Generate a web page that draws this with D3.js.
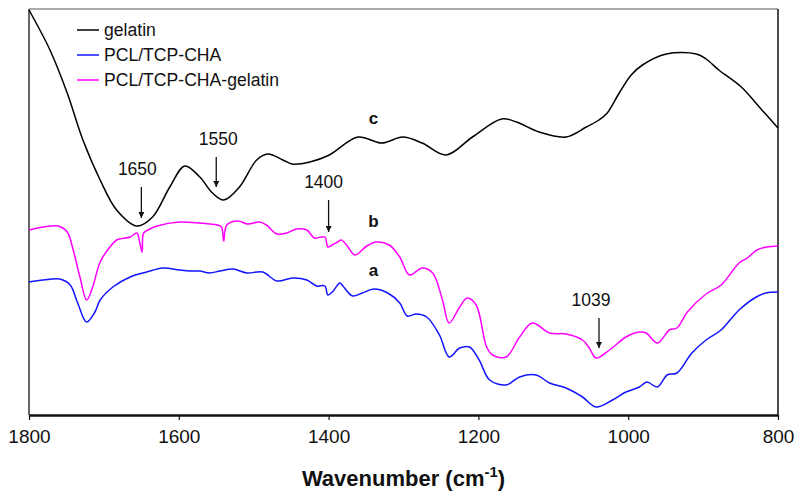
<!DOCTYPE html>
<html>
<head>
<meta charset="utf-8">
<script src="https://cdn.jsdelivr.net/npm/d3@7/dist/d3.min.js"></script>
<style>
  html, body { margin: 0; padding: 0; background: #fff; }
  svg { display: block; font-family: "Liberation Sans", Arial, sans-serif; }
</style>
</head>
<body>
<svg id="chart" width="798" height="496"></svg>
<script>
// FTIR spectra, transmittance in arbitrary units (traces offset vertically)
const gelatinWn = [1800,1772,1749,1728,1705,1683,1656,1635,1612,1592,1572,1555,1540,1519,1496,1481,1461,1449,1425,1399,1361,1329,1301,1275,1243,1208,1169,1149,1119,1083,1056,1039,1028,1012,996,981,949,909,896,879,849,825,800];
const gelatinT  = [405,365,322,275,235,205,189,198,228,249,238,222,215,228,255,261,255,251,253,260,278,272,278,272,260,278,296,293,283,278,288,295,302,322,340,350,361,361,356,345,328,308,287];

const chaWn = [1800,1781,1759,1745,1735,1723,1712,1705,1688,1665,1643,1621,1599,1585,1572,1559,1545,1528,1509,1488,1469,1448,1429,1416,1405,1401,1395,1385,1381,1368,1355,1339,1321,1305,1295,1283,1269,1252,1239,1225,1212,1199,1185,1163,1145,1123,1105,1083,1061,1043,1021,1003,985,975,961,948,935,915,896,876,852,829,816,800];
const chaT  = [133,135,136,130,112,93,103,115,128,138,143,147,145,144,144,142,144,146,142,143,134,137,135,129,129,120,123,132,129,119,122,126,122,112,99,101,98,80,58,67,68,55,35,30,38,40,32,27,18,8,15,23,28,33,28,40,42,62,75,85,105,118,122,123];

const chaGelWn = [1800,1781,1761,1749,1741,1732,1723,1715,1705,1692,1683,1665,1656,1652,1649,1647,1641,1629,1599,1572,1549,1543,1540,1536,1521,1508,1492,1483,1469,1456,1443,1429,1419,1405,1401,1395,1388,1383,1376,1365,1349,1336,1319,1305,1292,1275,1261,1248,1239,1225,1215,1203,1189,1181,1163,1145,1128,1105,1083,1061,1052,1043,1025,1003,985,976,961,945,935,921,896,876,852,841,828,815,800];
const chaGelT  = [185,188,189,183,165,138,115,128,153,168,175,178,182,172,163,182,185,189,193,192,190,188,174,190,194,191,193,190,181,182,186,185,177,178,168,170,173,175,170,160,169,173,170,158,140,147,142,115,92,108,117,110,68,60,58,78,92,82,81,75,67,57,65,78,83,82,72,85,87,103,121,130,152,157,165,168,169];

const seriesNames  = ["gelatin", "PCL/TCP-CHA", "PCL/TCP-CHA-gelatin"];
const seriesColors = ["#000000", "#1414ff", "#ff00ff"];
const traceLetters = ["c", "a", "b"];
const traceLetterWn = [1340, 1340, 1340];
const traceLetterT  = [291, 139, 188];

const xTicks = [1800, 1600, 1400, 1200, 1000, 800];
const peakLabels = ["1650", "1550", "1400", "1039"];
const peakWn     = [1650, 1550, 1400, 1039];

const series = [
  { wn: gelatinWn, t: gelatinT },
  { wn: chaWn, t: chaT },
  { wn: chaGelWn, t: chaGelT }
];

const svg = d3.select("#chart");
const margin = { left: 29, top: 9, right: 20, bottom: 81 };
const W = 798, H = 496;
const x = d3.scaleLinear().domain([1800, 800]).range([margin.left, W - margin.right]);
const y = d3.scaleLinear().domain([0, 406]).range([H - margin.bottom, margin.top]);

const x0 = x.range()[0], x1 = x.range()[1];
const yTop = y.range()[1], yBot = y.range()[0];

// frame: top and right borders, left axis line
svg.append("line").attr("x1", x0).attr("x2", x1).attr("y1", yTop).attr("y2", yTop)
  .attr("stroke", "#555").attr("stroke-width", 1.2);
svg.append("line").attr("x1", x1).attr("x2", x1).attr("y1", yTop).attr("y2", yBot)
  .attr("stroke", "#111").attr("stroke-width", 1.5);
svg.append("line").attr("x1", x0).attr("x2", x0).attr("y1", yTop).attr("y2", yBot)
  .attr("stroke", "#333").attr("stroke-width", 1.5);

// traces
const line = d3.line().curve(d3.curveCatmullRom.alpha(0.5));
series.forEach((s, i) => {
  const pts = s.wn.map((w, k) => [x(w), y(s.t[k])]);
  svg.append("path").attr("d", line(pts))
    .attr("fill", "none").attr("stroke", seriesColors[i])
    .attr("stroke-width", 1.5).attr("stroke-linejoin", "round");
});

// bottom axis
const xAxis = d3.axisBottom(x).tickValues(xTicks).tickFormat(d3.format("d"))
  .tickSize(5).tickSizeOuter(0).tickPadding(10);
const gx = svg.append("g").attr("transform", `translate(0,${yBot})`).call(xAxis);
gx.select(".domain").attr("stroke", "#111").attr("stroke-width", 2.6);
gx.selectAll(".tick line").attr("stroke", "#111").attr("stroke-width", 1.2);
gx.selectAll(".tick text").attr("font-size", 19).attr("fill", "#111")
  .attr("font-family", "'Liberation Sans', Arial, sans-serif");

// axis title
const title = svg.append("text").attr("x", (x0 + x1) / 2).attr("y", 486)
  .attr("text-anchor", "middle").attr("font-weight", "bold").attr("font-size", 22).attr("fill", "#111");
title.append("tspan").text("Wavenumber (cm");
title.append("tspan").attr("font-size", 15).attr("dy", -9).text("-1");
title.append("tspan").attr("dy", 9).text(")");

// legend
const legend = svg.append("g");
seriesNames.forEach((name, i) => {
  const ly = 30 + i * 25;
  legend.append("line").attr("x1", 77).attr("x2", 99).attr("y1", ly).attr("y2", ly)
    .attr("stroke", seriesColors[i]).attr("stroke-width", 1.5);
  legend.append("text").attr("x", 104).attr("y", ly + 6).attr("font-size", 17.6)
    .attr("fill", "#111").text(name);
});

// trace letters
traceLetters.forEach((t, i) => {
  svg.append("text").attr("x", x(traceLetterWn[i])).attr("y", y(traceLetterT[i]))
    .attr("text-anchor", "middle").attr("font-weight", "bold").attr("font-size", 17)
    .attr("fill", "#111").text(t);
});

// peak markers: arrow tip height and label shift per marker
const markerPlacement = [
  { tip: 218, len: 31, dx: -4 },
  { tip: 187, len: 30, dx: 2 },
  { tip: 232, len: 32, dx: -5 },
  { tip: 348, len: 30, dx: -8 }
];
const defs = svg.append("defs");
defs.append("marker").attr("id", "arrowhead").attr("viewBox", "0 0 10 10")
  .attr("refX", 10).attr("refY", 5).attr("markerWidth", 8).attr("markerHeight", 6)
  .attr("markerUnits", "userSpaceOnUse").attr("orient", "auto")
  .append("path").attr("d", "M0,0 L10,5 L0,10 Z").attr("fill", "#111");

peakLabels.forEach((lab, i) => {
  const p = markerPlacement[i];
  const px = x(peakWn[i]);
  svg.append("line").attr("x1", px).attr("x2", px)
    .attr("y1", p.tip - p.len).attr("y2", p.tip)
    .attr("stroke", "#111").attr("stroke-width", 1.3)
    .attr("marker-end", "url(#arrowhead)");
  svg.append("text").attr("x", px + p.dx).attr("y", p.tip - p.len - 12)
    .attr("text-anchor", "middle").attr("font-size", 17.5).attr("fill", "#111").text(lab);
});
</script>
</body>
</html>
